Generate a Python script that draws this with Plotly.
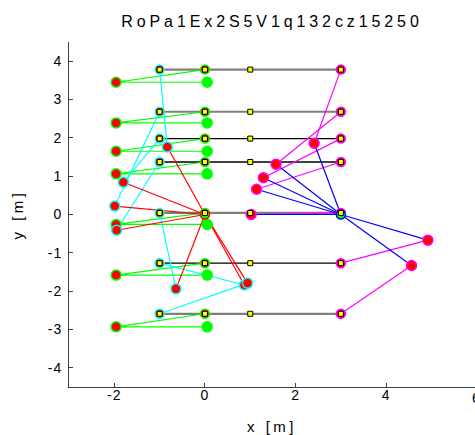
import plotly.graph_objects as go

# ---- data ----
row_y = [3.78, 2.68, 1.98, 1.37, 0.04, -1.27, -2.59]
row_x = [-1, 0, 1, 3]
row_style = ["gray", "gray", "black", "black", "gray", "black", "gray"]

green_left_x = [-1.96, -1.96, -1.96, -1.96, -1.96, -1.96, -1.96]
green_right_x = [0.05, 0.05, 0.05, 0.05, 0.05, 0.05, 0.05]
green_y = [3.45, 2.39, 1.65, 1.06, -0.26, -1.58, -2.93]

cyan_x = [-0.83, -1.99, -1.80, -1.95, -0.64, 0.87, 0.94]
cyan_y = [1.76, 0.22, 0.84, -0.41, -1.94, -1.84, -1.79]

mag_x = [2.41, 1.57, 1.29, 1.14, 1.02, 4.92, 4.56]
mag_y = [1.86, 1.31, 0.96, 0.66, 0.00, -0.67, -1.33]

red_center = (0.0, 0.0)
blue_center = (3.0, 0.0)

title_text = "RoPa1Ex2S5V1q132cz15250"
x_label = "x [m]"
y_label = "y [m]"
x_ticks = [-2, 0, 2, 4, 6]
y_ticks = [-4, -3, -2, -1, 0, 1, 2, 3, 4]
x_range = [-3, 5.96]
y_range = [-4.5, 4.5]

# ---- styles ----
RED, GREEN, CYAN, MAG, BLUE, YEL = "#FF0000", "#00FF00", "#00FFFF", "#FF00FF", "#0000FF", "#FFFF00"
FONT = "Liberation Sans, Arial, sans-serif"


def spaced(t, px):
    return f'<span style="letter-spacing:{px}px">{t}</span>'


fig = go.Figure()


def seg(xs, ys, color, width):
    fig.add_trace(go.Scatter(x=xs, y=ys, mode="lines",
                             line=dict(color=color, width=width),
                             hoverinfo="skip", showlegend=False))


def pts(xs, ys, fill, edge, size, symbol="circle", ew=1.5):
    fig.add_trace(go.Scatter(x=xs, y=ys, mode="markers",
                             marker=dict(color=fill, size=size, symbol=symbol,
                                         line=dict(color=edge, width=ew)),
                             hoverinfo="skip", showlegend=False))


# row lines
for y, st in zip(row_y, row_style):
    if st == "gray":
        seg([row_x[0], row_x[-1]], [y, y], "#7f7f7f", 2.2)
    else:
        seg([row_x[0], row_x[-1]], [y, y], "#000000", 1.3)

# green polylines: row point at x=0 -> left circle -> right dot
for i, y in enumerate(row_y):
    seg([0, green_left_x[i], green_right_x[i]], [y, green_y[i], green_y[i]], GREEN, 1.2)

# cyan lines: row point at x=-1 -> displaced point
for i, y in enumerate(row_y):
    seg([-1, cyan_x[i]], [y, cyan_y[i]], CYAN, 1.2)

# red lines from red center
for i in range(len(cyan_x)):
    seg([red_center[0], cyan_x[i]], [red_center[1], cyan_y[i]], RED, 1.2)

# magenta lines: row point at x=3 -> displaced point
for i, y in enumerate(row_y):
    seg([3, mag_x[i]], [y, mag_y[i]], MAG, 1.2)

# blue lines from blue center
for i in range(len(mag_x)):
    seg([blue_center[0], mag_x[i]], [blue_center[1], mag_y[i]], BLUE, 1.2)

# markers
pts(green_right_x, green_y, GREEN, GREEN, 10)
pts(green_left_x, green_y, RED, GREEN, 10)
pts(cyan_x, cyan_y, RED, CYAN, 10)
pts(mag_x, mag_y, RED, MAG, 10)
pts([-1] * len(row_y), row_y, RED, CYAN, 9)
pts([0] * len(row_y), row_y, RED, GREEN, 9)
pts([3] * len(row_y), row_y, RED, MAG, 9)
pts([red_center[0]], [red_center[1]], GREEN, RED, 9)
pts([blue_center[0]], [blue_center[1]], GREEN, BLUE, 9)
sq_x = [x for _ in row_y for x in row_x]
sq_y = [y for y in row_y for _ in row_x]
pts(sq_x, sq_y, YEL, "#000000", 5, symbol="square", ew=1)

# tick labels that sit just past the clipped right edge of the axes
edge_ticks = [t for t in x_ticks if t > x_range[1]]
annotations = [dict(text=spaced(t, 1), xref="paper", yref="paper",
                    x=(t - x_range[0]) / (x_range[1] - x_range[0]), y=0,
                    xanchor="center", yanchor="top", yshift=-1, showarrow=False,
                    font=dict(family=FONT, size=14, color="#000000"))
               for t in edge_ticks]

fig.update_layout(
    width=475, height=435,
    margin=dict(l=69, r=0, t=42, b=48),
    paper_bgcolor="white", plot_bgcolor="white",
    font=dict(family=FONT, size=14, color="#000000"),
    title=dict(text=spaced(title_text, 3.9),
               x=0.5, xref="paper", xanchor="center",
               y=1 - 21 / 435, yanchor="middle",
               font=dict(family=FONT, size=16, color="#000000")),
    showlegend=False,
    annotations=annotations,
)
fig.update_xaxes(range=x_range, tickvals=x_ticks,
                 ticktext=[spaced(t, 1) for t in x_ticks],
                 ticklabeloverflow="allow",
                 showgrid=False, zeroline=False,
                 showline=True, linecolor="#404040", linewidth=1,
                 ticks="inside", ticklen=4, tickcolor="#404040",
                 ticklabelstandoff=-5,
                 title=dict(text=spaced(x_label, 3.5), standoff=22,
                            font=dict(family=FONT, size=15)))
fig.update_yaxes(range=y_range, tickvals=y_ticks,
                 ticktext=[spaced(t, 1) for t in y_ticks],
                 showgrid=False, zeroline=False,
                 showline=True, linecolor="#404040", linewidth=1,
                 ticks="inside", ticklen=4, tickcolor="#404040",
                 ticklabelstandoff=3,
                 title=dict(text=spaced(y_label, 3.5), standoff=20,
                            font=dict(family=FONT, size=15)))

fig.write_html("out.html")
